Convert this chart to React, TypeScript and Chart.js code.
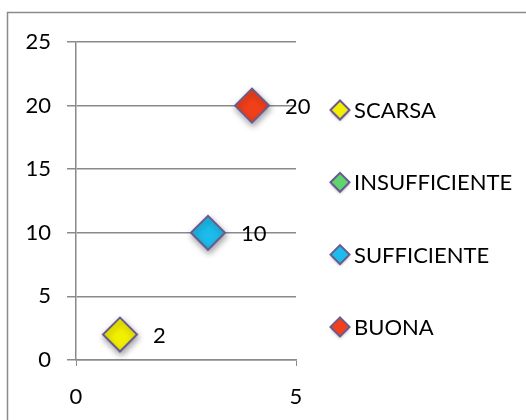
import React, { useEffect, useRef } from "react";
import { Chart, registerables } from "chart.js";

Chart.register(...registerables);

const seriesNames = ["SCARSA", "INSUFFICIENTE", "SUFFICIENTE", "BUONA"];
const seriesX = [1, 2, 3, 4];
const seriesY: (number | null)[] = [2, null, 10, 20];
const seriesColors = ["#f2f000", "#5fd36e", "#1cbcec", "#f2401a"];
const xTicks = [0, 5];
const yTicks = [0, 5, 10, 15, 20, 25];

const FONT = "Lato";
const FONT_SIZE = 22;
const EDGE = "#6b5a8e";

const frame = {
  id: "frame",
  beforeDraw(chart: any) {
    const ctx = chart.ctx;
    ctx.save();
    ctx.fillStyle = "#ffffff";
    ctx.fillRect(0, 0, chart.width, chart.height);
    ctx.strokeStyle = "#8a8a8a";
    ctx.lineWidth = 1.5;
    ctx.strokeRect(7.5, 12.5, chart.width + 20, chart.height + 20);
    ctx.restore();
  },
};

const shadow = {
  id: "shadow",
  beforeDatasetsDraw(chart: any) {
    const ctx = chart.ctx;
    ctx.save();
    ctx.shadowColor = "rgba(0,0,0,0.35)";
    ctx.shadowBlur = 6;
    ctx.shadowOffsetX = 1;
    ctx.shadowOffsetY = 3;
  },
  afterDatasetsDraw(chart: any) {
    chart.ctx.restore();
  },
};

const valueLabels = {
  id: "valueLabels",
  afterDatasetsDraw(chart: any) {
    const ctx = chart.ctx;
    ctx.save();
    ctx.font = `${FONT_SIZE}px ${FONT}`;
    ctx.fillStyle = "#000000";
    ctx.textAlign = "left";
    ctx.textBaseline = "middle";
    chart.data.datasets.forEach((ds: any, i: number) => {
      const meta = chart.getDatasetMeta(i);
      meta.data.forEach((pt: any, j: number) => {
        const v = ds.data[j];
        if (!v || v.y == null) return;
        ctx.fillText(String(v.y), pt.x + 33, pt.y + 1);
      });
    });
    ctx.restore();
  },
};

const sideLegend = {
  id: "sideLegend",
  afterDraw(chart: any) {
    const ctx = chart.ctx;
    const area = chart.chartArea;
    const markerX = area.right + 44;
    const textX = area.right + 58;
    const firstY = 110;
    const step = 72.3;
    ctx.save();
    ctx.font = `${FONT_SIZE}px ${FONT}`;
    ctx.textAlign = "left";
    ctx.textBaseline = "middle";
    chart.data.datasets.forEach((ds: any, i: number) => {
      const y = firstY + i * step;
      const r = 9.5;
      ctx.save();
      ctx.shadowColor = "rgba(0,0,0,0.3)";
      ctx.shadowBlur = 3;
      ctx.shadowOffsetY = 2;
      ctx.beginPath();
      ctx.moveTo(markerX - r, y);
      ctx.lineTo(markerX, y - r);
      ctx.lineTo(markerX + r, y);
      ctx.lineTo(markerX, y + r);
      ctx.closePath();
      ctx.fillStyle = seriesColors[i];
      ctx.fill();
      ctx.restore();
      ctx.beginPath();
      ctx.moveTo(markerX - r, y);
      ctx.lineTo(markerX, y - r);
      ctx.lineTo(markerX + r, y);
      ctx.lineTo(markerX, y + r);
      ctx.closePath();
      ctx.strokeStyle = EDGE;
      ctx.lineWidth = 2;
      ctx.stroke();
      ctx.fillStyle = "#000000";
      ctx.fillText(ds.label, textX, y + 1);
    });
    ctx.restore();
  },
};

export default function App() {
  const ref = useRef<HTMLCanvasElement | null>(null);
  useEffect(() => {
    if (!ref.current) return;
    const chart = new Chart(ref.current, {
      type: "scatter",
      data: {
        datasets: seriesNames.map((name, i) => ({
          label: name,
          data: seriesY[i] == null ? [] : [{ x: seriesX[i], y: seriesY[i] as number }],
          backgroundColor: seriesColors[i],
          borderColor: EDGE,
          borderWidth: 2,
          pointStyle: "rectRot",
          pointRadius: 17,
          pointHoverRadius: 17,
        })),
      },
      options: {
        animation: false,
        responsive: true,
        maintainAspectRatio: false,
        layout: { padding: { left: 0, top: 42, right: 230, bottom: 0 } },
        plugins: {
          tooltip: { enabled: false },
          legend: { display: false },
        },
        scales: {
          x: {
            type: "linear",
            min: 0,
            max: 5,
            afterBuildTicks: (axis: any) => {
              axis.ticks = xTicks.map((v) => ({ value: v }));
            },
            afterFit: (axis: any) => {
              axis.height = 60;
            },
            grid: {
              drawOnChartArea: false,
              drawTicks: true,
              tickLength: 6,
              color: "#8a8a8a",
            },
            border: { color: "#8a8a8a", width: 1.5 },
            ticks: {
              color: "#000000",
              font: { family: FONT, size: FONT_SIZE },
              padding: 18,
              maxRotation: 0,
            },
          },
          y: {
            type: "linear",
            min: 0,
            max: 25,
            afterBuildTicks: (axis: any) => {
              axis.ticks = yTicks.map((v) => ({ value: v }));
            },
            afterFit: (axis: any) => {
              axis.width = 76;
            },
            grid: {
              color: "#8a8a8a",
              lineWidth: 1.5,
              drawTicks: true,
              tickLength: 9,
            },
            border: { color: "#8a8a8a", width: 1.5 },
            ticks: {
              color: "#000000",
              font: { family: FONT, size: FONT_SIZE },
              padding: 16,
            },
          },
        },
      },
      plugins: [frame, shadow, valueLabels, sideLegend],
    });
    return () => chart.destroy();
  }, []);
  return (
    <div style={{ position: "fixed", left: 0, top: 0, width: 526, height: 420 }}>
      <canvas ref={ref} />
    </div>
  );
}
